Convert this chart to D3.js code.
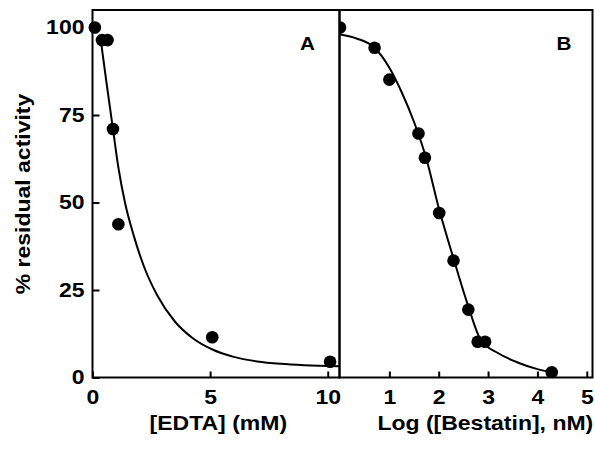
<!DOCTYPE html>
<html>
<head>
<meta charset="utf-8">
<script src="https://cdn.jsdelivr.net/npm/d3@7/dist/d3.min.js"></script>
<style>
  html, body { margin: 0; padding: 0; background: #fff; }
  svg { display: block; }
  text { font-family: "Liberation Sans", Arial, sans-serif; font-weight: bold; fill: #000; }
</style>
</head>
<body>
<svg id="chart" width="595" height="451"></svg>
<script>
// ---- Data ----
// Panel A: EDTA (mM) vs % residual activity
const edtaX = [0.1, 0.4, 0.64, 0.87, 1.1, 5.09, 10.1];
const edtaY = [100, 96.4, 96.4, 71, 43.8, 11.5, 4.5];
// Fitted curve A (traced)
const edtaFitX = [0.36, 0.6, 0.87, 1.1, 1.38, 1.75, 2.2, 2.75, 3.5, 4.25, 5.1, 6, 7, 8, 9, 10.5];
const edtaFitY = [96, 84, 71, 60, 50, 40.6, 31.5, 23.5, 16, 11.3, 8, 5.9, 4.6, 3.9, 3.5, 3.2];

// Panel B: log([Bestatin], nM) vs % residual activity
const bestX = [0, 0.7, 1.0, 1.59, 1.72, 2.01, 2.3, 2.6, 2.79, 2.94, 4.29];
const bestY = [100, 94.2, 85.1, 69.7, 62.8, 47.0, 33.4, 19.4, 10.2, 10.2, 1.5];
// Fitted curve B (traced)
const bestFitX = [0, 0.35, 0.7, 1.0, 1.25, 1.5, 1.75, 2.0, 2.3, 2.6, 2.85, 3.2, 3.6, 4.0, 4.3];
const bestFitY = [98, 96.8, 94.2, 88.5, 81.5, 73, 62.5, 48.5, 34, 20.3, 10.8, 7, 4.3, 2.4, 1.5];

// Tick values / labels
const yTicks = [0, 25, 50, 75, 100];
const xTicksA = [0, 5, 10];
const xTicksB = [1, 2, 3, 4, 5];
const yLabel = "% residual activity";
const xLabelA = "[EDTA] (mM)";
const xLabelB = "Log ([Bestatin], nM)";
const panelLabels = ["A", "B"];

// ---- Layout ----
const svg = d3.select("#chart");
svg.append("rect").attr("width", 595).attr("height", 451).attr("fill", "#fff");

const plotTop = 10, plotBottom = 377.5;
const aL = 92.5, aR = 339.5, bL = 340, bR = 592.5;
const SX = 1.15; // horizontal stretch of the reference lettering
const fmt = d3.format("d");

const y = d3.scaleLinear().domain([0, 105]).range([plotBottom, plotTop]);
const xA = d3.scaleLinear().domain([0, 10.5]).range([aL, aR]);
const xB = d3.scaleLinear().domain([0, 5.116]).range([bL, bR]);

// clip paths
const defs = svg.append("defs");
defs.append("clipPath").attr("id", "clipA").append("rect")
  .attr("x", aL).attr("y", plotTop - 20).attr("width", aR - aL).attr("height", plotBottom - plotTop + 20);
defs.append("clipPath").attr("id", "clipB").append("rect")
  .attr("x", bL).attr("y", plotTop - 20).attr("width", bR - bL).attr("height", plotBottom - plotTop + 20);

function styleAxis(g) {
  g.select(".domain").remove();
  g.selectAll(".tick line").attr("stroke", "#000").attr("stroke-width", 2);
  g.selectAll(".tick text")
    .style("font-size", "20px")
    .attr("transform", `scale(${SX},1)`);
}

// Y axis (panel A left)
svg.append("g").attr("transform", `translate(${aL},0)`)
  .call(d3.axisLeft(y).tickValues(yTicks).tickFormat(fmt).tickSizeInner(-7).tickSizeOuter(0).tickPadding(7))
  .call(styleAxis);

// X axis A
svg.append("g").attr("transform", `translate(0,${plotBottom})`)
  .call(d3.axisBottom(xA).tickValues(xTicksA).tickFormat(fmt).tickSizeInner(-6).tickSizeOuter(0).tickPadding(12))
  .call(styleAxis);

// X axis B
svg.append("g").attr("transform", `translate(0,${plotBottom})`)
  .call(d3.axisBottom(xB).tickValues(xTicksB).tickFormat(fmt).tickSizeInner(-6).tickSizeOuter(0).tickPadding(12))
  .call(styleAxis);

// Curves
const lineA = d3.line().x(d => xA(d[0])).y(d => y(d[1])).curve(d3.curveMonotoneX);
const lineB = d3.line().x(d => xB(d[0])).y(d => y(d[1])).curve(d3.curveMonotoneX);

svg.append("path").attr("clip-path", "url(#clipA)")
  .datum(d3.zip(edtaFitX, edtaFitY))
  .attr("d", lineA).attr("fill", "none").attr("stroke", "#000").attr("stroke-width", 2);

svg.append("path").attr("clip-path", "url(#clipB)")
  .datum(d3.zip(bestFitX, bestFitY))
  .attr("d", lineB).attr("fill", "none").attr("stroke", "#000").attr("stroke-width", 2);

// Points
svg.append("g").selectAll("circle").data(d3.zip(edtaX, edtaY)).join("circle")
  .attr("cx", d => xA(d[0])).attr("cy", d => y(d[1])).attr("r", 6.3).attr("fill", "#000");

svg.append("g").attr("clip-path", "url(#clipB)")
  .selectAll("circle").data(d3.zip(bestX, bestY)).join("circle")
  .attr("cx", d => xB(d[0])).attr("cy", d => y(d[1])).attr("r", 6.3).attr("fill", "#000");

// Frames
svg.append("rect").attr("x", aL).attr("y", plotTop).attr("width", aR - aL).attr("height", plotBottom - plotTop)
  .attr("fill", "none").attr("stroke", "#000").attr("stroke-width", 2);
svg.append("rect").attr("x", aR).attr("y", plotTop).attr("width", bR - aR).attr("height", plotBottom - plotTop)
  .attr("fill", "none").attr("stroke", "#000").attr("stroke-width", 2);

// Panel letters
svg.append("text").attr("transform", `translate(307.5,50) scale(${SX},1)`)
  .attr("text-anchor", "middle").style("font-size", "18px").text(panelLabels[0]);
svg.append("text").attr("transform", `translate(564,50) scale(${SX},1)`)
  .attr("text-anchor", "middle").style("font-size", "18px").text(panelLabels[1]);

// Axis titles
svg.append("text").attr("transform", `translate(218.3,430) scale(${SX},1)`)
  .attr("text-anchor", "middle").style("font-size", "20px").text(xLabelA);
svg.append("text").attr("transform", `translate(485.3,430) scale(${SX},1)`)
  .attr("text-anchor", "middle").style("font-size", "20px").text(xLabelB);
svg.append("text").attr("transform", `translate(30,194) rotate(-90) scale(${SX},1)`)
  .attr("text-anchor", "middle").style("font-size", "20px").text(yLabel);
</script>
</body>
</html>
